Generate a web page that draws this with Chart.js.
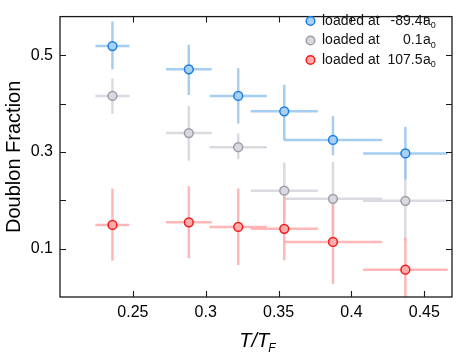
<!DOCTYPE html>
<html>
<head>
<meta charset="utf-8">
<script src="https://cdn.jsdelivr.net/npm/chart.js@4.4.0/dist/chart.umd.min.js"></script>
<style>
  html, body { margin: 0; padding: 0; background: #fff; }
  #wrap { width: 458px; height: 363px; }
</style>
</head>
<body>
<div id="wrap"><canvas id="c" width="458" height="363"></canvas></div>
<script>
// ---- data ----
const tempX   = [0.236, 0.2884, 0.3223, 0.3539, 0.3873, 0.437];   // T/T_F
const tempErr = [0.0117, 0.0157, 0.0197, 0.023, 0.0337, 0.029];

const blueY  = [0.519, 0.471, 0.416, 0.384, 0.325, 0.297];
const blueLo = [0.471, 0.418, 0.359, 0.325, 0.293, 0.243];
const blueHi = [0.570, 0.522, 0.473, 0.439, 0.374, 0.352];

const grayY  = [0.416, 0.339, 0.310, 0.220, 0.203, 0.199];
const grayLo = [0.379, 0.282, 0.285, 0.162, 0.130, 0.115];
const grayHi = [0.452, 0.395, 0.338, 0.278, 0.280, 0.285];

const redY  = [0.149, 0.1545, 0.145, 0.141, 0.114, 0.0565];
const redLo = [0.075, 0.080, 0.066, 0.076, 0.027, -0.010];
const redHi = [0.2245, 0.229, 0.2245, 0.208, 0.200, 0.1224];

const legendPrefix = ['loaded at', 'loaded at', 'loaded at'];
const legendValues = ['-89.4', '0.1', '107.5'];
const legendUnit = 'a';
const legendUnitSub = '0';

const yTickLabels = [0.1, 0.3, 0.5];
const xTickLabels = [0.25, 0.3, 0.35, 0.4, 0.45];

const FONT = "'Liberation Sans', Arial, Helvetica, sans-serif";

const styles = {
  blue: { fill: '#a9cff3', stroke: '#1a7fe3', bar: 'rgba(150,196,240,0.85)' },
  gray: { fill: '#d9d9de', stroke: '#9c9caa', bar: 'rgba(214,214,222,0.9)' },
  red:  { fill: '#ffacac', stroke: '#f21a1a', bar: 'rgba(255,170,170,0.85)' }
};

function pts(ys) { return tempX.map((x, i) => ({ x: x, y: ys[i] })); }

const series = [
  { key: 'gray', y: grayY, lo: grayLo, hi: grayHi },
  { key: 'red',  y: redY,  lo: redLo,  hi: redHi },
  { key: 'blue', y: blueY, lo: blueLo, hi: blueHi }
];

const errorBars = {
  id: 'errorBars',
  beforeDatasetsDraw(chart) {
    const { ctx, chartArea: a } = chart;
    const xs = chart.scales.x, ys = chart.scales.y;
    ctx.save();
    ctx.beginPath();
    ctx.rect(a.left, a.top, a.right - a.left, a.bottom - a.top);
    ctx.clip();
    ctx.lineWidth = 2.5;
    ctx.lineCap = 'butt';
    series.forEach(s => {
      ctx.strokeStyle = styles[s.key].bar;
      tempX.forEach((x, i) => {
        const px = xs.getPixelForValue(x);
        const py = ys.getPixelForValue(s.y[i]);
        ctx.beginPath();
        ctx.moveTo(px, ys.getPixelForValue(s.lo[i]));
        ctx.lineTo(px, ys.getPixelForValue(s.hi[i]));
        ctx.moveTo(xs.getPixelForValue(x - tempErr[i]), py);
        ctx.lineTo(xs.getPixelForValue(x + tempErr[i]), py);
        ctx.stroke();
      });
    });
    ctx.restore();
  }
};

const frameAndDecor = {
  id: 'frameAndDecor',
  afterDraw(chart) {
    const { ctx, chartArea: a } = chart;
    const xs = chart.scales.x, ys = chart.scales.y;
    ctx.save();
    // frame
    ctx.strokeStyle = '#1a1a1a';
    ctx.lineWidth = 1.3;
    ctx.strokeRect(a.left, a.top, a.right - a.left, a.bottom - a.top);
    // inward ticks
    ctx.lineWidth = 1.1;
    const tl = 6;
    ctx.beginPath();
    [0.1, 0.2, 0.3, 0.4, 0.5].forEach(v => {
      const py = Math.round(ys.getPixelForValue(v)) + 0.5;
      ctx.moveTo(a.left, py); ctx.lineTo(a.left + tl, py);
      ctx.moveTo(a.right, py); ctx.lineTo(a.right - tl, py);
    });
    xTickLabels.forEach(v => {
      const px = Math.round(xs.getPixelForValue(v)) + 0.5;
      ctx.moveTo(px, a.bottom); ctx.lineTo(px, a.bottom - tl);
      ctx.moveTo(px, a.top); ctx.lineTo(px, a.top + tl);
    });
    ctx.stroke();

    // legend
    const lx = 310.5, tx = 322, numRight = 422.5;
    const rows = [21, 40.5, 60];
    const keys = ['blue', 'gray', 'red'];
    ctx.textBaseline = 'middle';
    keys.forEach((k, i) => {
      const y = rows[i];
      ctx.beginPath();
      ctx.arc(lx, y, 4.3, 0, Math.PI * 2);
      ctx.fillStyle = styles[k].fill; ctx.fill();
      ctx.lineWidth = 1.5; ctx.strokeStyle = styles[k].stroke; ctx.stroke();
      ctx.fillStyle = '#111';
      ctx.font = '14px ' + FONT;
      ctx.textAlign = 'left';
      ctx.fillText(legendPrefix[i], tx, y);
      ctx.textAlign = 'right';
      ctx.fillText(legendValues[i], numRight, y);
      ctx.textAlign = 'left';
      ctx.fillText(legendUnit, numRight + 0.5, y);
      const aw = ctx.measureText(legendUnit).width;
      ctx.font = '9px ' + FONT;
      ctx.fillText(legendUnitSub, numRight + 0.5 + aw, y + 5);
    });

    // y title
    ctx.fillStyle = '#000';
    ctx.save();
    ctx.translate(14, (a.top + a.bottom) / 2);
    ctx.rotate(-Math.PI / 2);
    ctx.font = '20px ' + FONT;
    ctx.textAlign = 'center';
    ctx.textBaseline = 'middle';
    ctx.fillText('Doublon Fraction', 0, 0);
    ctx.restore();

    // x title T/T_F
    ctx.font = 'italic 20px ' + FONT;
    ctx.textBaseline = 'alphabetic';
    ctx.textAlign = 'left';
    const main = 'T/T';
    const mw = ctx.measureText(main).width;
    ctx.font = 'italic 12px ' + FONT;
    const sw = ctx.measureText('F').width;
    const cx = (a.left + a.right) / 2 + 2;
    const x0 = cx - (mw + sw) / 2;
    ctx.font = 'italic 20px ' + FONT;
    ctx.fillText(main, x0, 347);
    ctx.font = 'italic 12px ' + FONT;
    ctx.fillText('F', x0 + mw - 1, 352);
    ctx.restore();
  }
};

new Chart(document.getElementById('c'), {
  type: 'scatter',
  data: {
    datasets: series.slice().reverse().map(s => ({
      label: s.key,
      data: pts(s.y),
      backgroundColor: styles[s.key].fill,
      borderColor: styles[s.key].stroke,
      pointRadius: 4.4,
      pointHoverRadius: 4.4,
      pointBorderWidth: 1.5
    }))
  },
  options: {
    responsive: false,
    animation: false,
    events: [],
    layout: { padding: { top: 3, right: 6, left: 0, bottom: 0 } },
    plugins: { legend: { display: false }, tooltip: { enabled: false } },
    scales: {
      x: {
        type: 'linear', min: 0.2, max: 0.469,
        afterFit(s) { s.height = 66; },
        afterBuildTicks(s) { s.ticks = xTickLabels.map(v => ({ value: v })); },
        grid: { display: false, drawTicks: false },
        border: { display: false },
        ticks: {
          padding: 6, color: '#000', font: { family: FONT, size: 16 },
          callback: v => String(+(+v).toFixed(2))
        }
      },
      y: {
        type: 'linear', min: 0, max: 0.58,
        afterFit(s) { s.width = 60; },
        afterBuildTicks(s) { s.ticks = yTickLabels.map(v => ({ value: v })); },
        grid: { display: false, drawTicks: false },
        border: { display: false },
        ticks: {
          padding: 7, color: '#000', font: { family: FONT, size: 16 },
          callback: v => String(+(+v).toFixed(1))
        }
      }
    }
  },
  plugins: [errorBars, frameAndDecor]
});
</script>
</body>
</html>
